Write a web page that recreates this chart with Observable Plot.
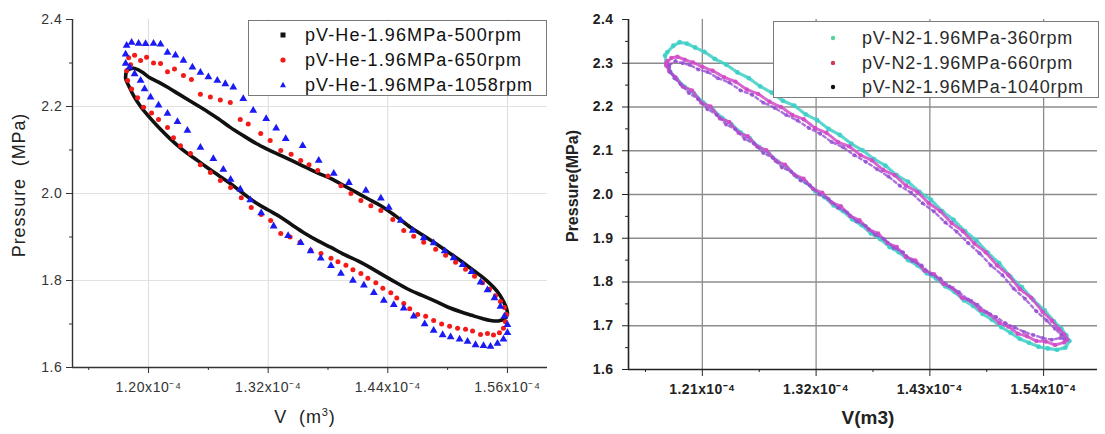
<!DOCTYPE html>
<html>
<head>
<meta charset="utf-8">
<script src="https://cdn.jsdelivr.net/npm/d3@7"></script>
<script src="https://cdn.jsdelivr.net/npm/@observablehq/plot@0.6"></script>
<style>
  body { margin: 0; background: #fff; font-family: "Liberation Sans", Arial, sans-serif; }
  #wrap { position: relative; width: 1105px; height: 434px; overflow: hidden; background: #fff; }
  #left, #right { position: absolute; top: 0; }
  #left { left: 0; width: 552px; }
  #right { left: 550px; width: 555px; }
  #left svg, #right svg { max-width: none; }
  #left svg text { font-size: 14px; letter-spacing: 0.6px; fill: #333; }
  #right svg text { font-size: 14px; font-weight: bold; letter-spacing: 0.4px; fill: #222; }
  .legend { position: absolute; background: #fff; border: 1px solid #7a7a7a; box-sizing: border-box; }
  .legend .t { position: absolute; white-space: nowrap; font-size: 18px; line-height: 22px; }
  .legend svg { position: absolute; overflow: visible; }
  .lab { position: absolute; white-space: nowrap; transform: translate(-50%, -50%); color: #222; }
</style>
</head>
<body>
<div id="wrap">
  <div id="left"></div>
  <div id="right"></div>
</div>
<script>
// ---------------- Left panel: He ----------------
const heNames = ["pV-He-1.96MPa-500rpm", "pV-He-1.96MPa-650rpm", "pV-He-1.96MPa-1058rpm"];
const heColors = ["#111111", "#f41a1a", "#1a1af4"];

// volume in units of 1e-4 m3, pressure in MPa
const he500Vol = [1.178,1.185,1.193,1.200,1.210,1.220,1.230,1.240,1.250,1.260,1.270,1.282,1.295,1.308,1.320,1.333,1.346,1.358,1.370,1.383,1.396,1.408,1.420,1.433,1.448,1.463,1.476,1.488,1.500,1.512,1.522,1.532,1.540,1.547,1.552,1.556,1.559,1.560,
  1.557,1.551,1.543,1.534,1.524,1.513,1.500,1.487,1.475,1.463,1.450,1.437,1.423,1.410,1.396,1.383,1.370,1.357,1.345,1.333,1.320,1.308,1.295,1.282,1.270,1.258,1.246,1.234,1.222,1.211,1.201,1.192,1.185,1.180,1.177,1.178];
const he500Pres = [2.283,2.288,2.280,2.268,2.256,2.243,2.229,2.215,2.201,2.187,2.172,2.152,2.133,2.115,2.101,2.087,2.073,2.060,2.047,2.034,2.018,2.003,1.988,1.972,1.948,1.922,1.903,1.885,1.866,1.847,1.830,1.813,1.798,1.782,1.768,1.752,1.736,1.722,
  1.712,1.707,1.708,1.713,1.720,1.728,1.739,1.753,1.765,1.777,1.793,1.810,1.829,1.845,1.860,1.876,1.891,1.908,1.926,1.945,1.962,1.978,2.000,2.023,2.042,2.061,2.081,2.101,2.125,2.150,2.175,2.200,2.225,2.248,2.265,2.283];

const he650Vol = [1.180,1.186,1.192,1.198,1.205,1.212,1.219,1.226,1.235,1.243,1.252,1.262,1.272,1.282,1.292,1.300,1.3125,1.322,1.3326,1.343,1.3526,1.361,1.3697,1.380,1.393,1.403,1.413,1.423,1.433,1.445,1.456,1.466,1.476,1.488,1.498,1.508,1.518,1.527,1.535,1.542,1.548,1.553,1.557,1.559,
  1.558,1.556,1.552,1.546,1.540,1.533,1.525,1.518,1.510,1.502,1.494,1.486,1.478,1.470,1.462,1.456,1.449,1.443,1.435,1.428,1.420,1.413,1.405,1.398,1.390,1.383,1.373,1.3627,1.352,1.342,1.3326,1.3225,1.313,1.303,1.293,1.2823,1.272,1.262,1.252,1.242,1.232,1.225,1.219,1.210,1.203,1.195,1.189,1.183,1.179,1.178,1.182];
const he650Pres = [2.312,2.318,2.306,2.313,2.300,2.299,2.280,2.286,2.271,2.262,2.228,2.222,2.215,2.209,2.170,2.160,2.138,2.122,2.099,2.090,2.076,2.066,2.053,2.040,2.018,2.000,1.984,1.972,1.961,1.940,1.915,1.902,1.888,1.872,1.858,1.842,1.826,1.810,1.795,1.780,1.765,1.752,1.738,1.722,
  1.705,1.690,1.680,1.675,1.678,1.676,1.684,1.688,1.690,1.695,1.700,1.708,1.718,1.722,1.735,1.747,1.760,1.772,1.782,1.795,1.805,1.816,1.825,1.835,1.843,1.851,1.862,1.869,1.888,1.900,1.908,1.938,1.952,1.968,1.990,2.014,2.030,2.048,2.066,2.092,2.110,2.128,2.152,2.170,2.185,2.198,2.220,2.240,2.260,2.282,2.296];

const he1058Vol = [1.178,1.183,1.190,1.197,1.205,1.212,1.219,1.227,1.235,1.244,1.252,1.260,1.269,1.277,1.285,1.295,1.305,1.318,1.328,1.3376,1.3546,1.3707,1.3858,1.401,1.418,1.433,1.441,1.453,1.465,1.476,1.486,1.497,1.506,1.515,1.524,1.533,1.540,1.547,1.553,1.557,1.560,
  1.560,1.556,1.550,1.543,1.536,1.528,1.520,1.512,1.503,1.495,1.486,1.477,1.466,1.456,1.446,1.436,1.426,1.416,1.405,1.393,1.383,1.3727,1.3626,1.3526,1.340,1.3255,1.313,1.302,1.292,1.2823,1.275,1.265,1.252,1.239,1.229,1.219,1.210,1.202,1.196,1.192,1.186,1.181,1.177,1.177];
const he1058Pres = [2.340,2.347,2.345,2.344,2.345,2.343,2.324,2.318,2.306,2.290,2.278,2.268,2.260,2.252,2.244,2.218,2.191,2.172,2.150,2.126,2.110,2.076,2.046,2.025,2.007,1.989,1.968,1.938,1.915,1.898,1.886,1.868,1.852,1.836,1.820,1.796,1.778,1.760,1.740,1.718,1.698,
  1.680,1.665,1.655,1.648,1.650,1.652,1.660,1.665,1.670,1.675,1.685,1.700,1.718,1.736,1.744,1.754,1.772,1.789,1.800,1.816,1.834,1.851,1.868,1.887,1.903,1.925,1.955,1.985,2.010,2.032,2.055,2.080,2.106,2.145,2.165,2.184,2.203,2.221,2.240,2.260,2.275,2.290,2.299,2.320];

const leftXTicks = [1.20, 1.32, 1.44, 1.56];
const leftXMinor = [1.14, 1.26, 1.38, 1.50];
const leftYTicks = [1.6, 1.8, 2.0, 2.2, 2.4];
const leftYMinor = [1.7, 1.9, 2.1, 2.3];
const leftYGrid = [1.8, 2.0, 2.2];
const leftXDomain = [1.1237, 1.6002];
const leftYDomain = [1.6, 2.4];

// ---------------- Right panel: N2 ----------------
const n2Names = ["pV-N2-1.96MPa-360rpm", "pV-N2-1.96MPa-660rpm", "pV-N2-1.96MPa-1040rpm"];
const n2PlotColors = ["#3ecfc6", "#d24ac8", "#9650d2"];
const n2LegendColors = ["#56d49c", "#cc3a58", "#111111"];

const n2_360Vol = [1.176,1.182,1.188,1.195,1.203,1.212,1.222,1.233,1.244,1.255,1.266,1.277,1.288,1.299,1.310,1.321,1.332,1.343,1.354,1.365,1.376,1.387,1.398,1.409,1.420,1.431,1.442,1.453,1.464,1.475,1.486,1.497,1.508,1.519,1.530,1.541,1.550,1.557,1.562,1.565,
  1.561,1.553,1.544,1.535,1.526,1.517,1.508,1.499,1.490,1.481,1.472,1.463,1.454,1.445,1.436,1.427,1.418,1.409,1.400,1.391,1.382,1.373,1.364,1.355,1.346,1.337,1.328,1.319,1.310,1.301,1.292,1.283,1.274,1.265,1.256,1.247,1.238,1.229,1.220,1.211,1.202,1.193,1.185,1.179,1.175,1.174];
const n2_360Pres = [2.325,2.340,2.348,2.345,2.336,2.326,2.310,2.297,2.279,2.266,2.247,2.233,2.214,2.203,2.183,2.170,2.150,2.136,2.116,2.101,2.081,2.066,2.044,2.029,2.006,1.988,1.962,1.942,1.916,1.895,1.867,1.843,1.812,1.788,1.759,1.735,1.710,1.694,1.678,1.665,
  1.650,1.645,1.648,1.652,1.661,1.670,1.684,1.697,1.714,1.727,1.745,1.758,1.777,1.790,1.808,1.820,1.838,1.850,1.868,1.880,1.898,1.911,1.930,1.943,1.962,1.975,1.994,2.008,2.028,2.041,2.061,2.075,2.095,2.108,2.128,2.142,2.161,2.175,2.195,2.210,2.231,2.246,2.265,2.280,2.300,2.318];

const n2_660Vol = [1.175,1.180,1.186,1.193,1.201,1.210,1.220,1.231,1.242,1.253,1.264,1.275,1.286,1.297,1.308,1.319,1.330,1.341,1.352,1.363,1.374,1.385,1.396,1.407,1.418,1.429,1.440,1.451,1.462,1.473,1.484,1.495,1.506,1.517,1.528,1.539,1.548,1.555,1.560,1.563,
  1.560,1.551,1.542,1.533,1.524,1.515,1.506,1.497,1.488,1.479,1.470,1.461,1.452,1.443,1.434,1.425,1.416,1.407,1.398,1.389,1.380,1.371,1.362,1.353,1.344,1.335,1.326,1.317,1.308,1.299,1.290,1.281,1.272,1.263,1.254,1.245,1.236,1.227,1.218,1.209,1.200,1.191,1.184,1.178,1.175,1.176];
const n2_660Pres = [2.300,2.312,2.315,2.308,2.302,2.292,2.283,2.268,2.258,2.240,2.230,2.212,2.200,2.182,2.172,2.152,2.141,2.120,2.110,2.090,2.078,2.056,2.044,2.020,2.006,1.980,1.962,1.935,1.916,1.888,1.868,1.838,1.816,1.784,1.764,1.732,1.712,1.692,1.680,1.668,
  1.662,1.656,1.664,1.665,1.676,1.682,1.698,1.707,1.726,1.736,1.756,1.764,1.786,1.796,1.818,1.826,1.849,1.857,1.880,1.889,1.911,1.920,1.941,1.951,1.973,1.982,2.004,2.013,2.036,2.045,2.068,2.077,2.101,2.110,2.133,2.141,2.166,2.174,2.201,2.210,2.238,2.247,2.268,2.282,2.295,2.305];

const n2_1040Vol = [1.178,1.184,1.191,1.198,1.206,1.215,1.225,1.236,1.247,1.258,1.269,1.280,1.291,1.302,1.313,1.324,1.335,1.346,1.357,1.368,1.379,1.390,1.401,1.412,1.423,1.434,1.445,1.456,1.467,1.478,1.489,1.500,1.511,1.522,1.533,1.543,1.551,1.557,1.560,
  1.556,1.548,1.539,1.530,1.521,1.512,1.503,1.494,1.485,1.476,1.467,1.458,1.449,1.440,1.431,1.422,1.413,1.404,1.395,1.386,1.377,1.368,1.359,1.350,1.341,1.332,1.323,1.314,1.305,1.296,1.287,1.278,1.269,1.260,1.251,1.242,1.233,1.224,1.215,1.206,1.197,1.189,1.183,1.179,1.178];
const n2_1040Pres = [2.296,2.305,2.300,2.296,2.286,2.280,2.266,2.256,2.238,2.228,2.210,2.198,2.182,2.169,2.152,2.139,2.120,2.108,2.090,2.075,2.058,2.041,2.020,2.004,1.980,1.961,1.936,1.915,1.889,1.866,1.838,1.816,1.785,1.762,1.733,1.712,1.693,1.680,1.670,
  1.672,1.668,1.672,1.679,1.686,1.696,1.706,1.720,1.731,1.748,1.760,1.777,1.790,1.808,1.818,1.838,1.848,1.868,1.878,1.898,1.908,1.928,1.939,1.959,1.970,1.990,2.000,2.021,2.032,2.052,2.062,2.084,2.095,2.116,2.127,2.149,2.160,2.182,2.195,2.218,2.232,2.252,2.266,2.280,2.292];

const rightXTicks = [1.21, 1.32, 1.43, 1.54];
const rightXMinor = [1.155, 1.265, 1.375, 1.485];
const rightYTicks = [1.6, 1.7, 1.8, 1.9, 2.0, 2.1, 2.2, 2.3, 2.4];
const rightYMinor = [1.65, 1.75, 1.85, 1.95, 2.05, 2.15, 2.25, 2.35];
const rightYGrid = [1.7, 1.8, 1.9, 2.0, 2.1, 2.2, 2.3];
const rightXDomain = [1.1386, 1.5921];
const rightYDomain = [1.6, 2.4];

// ---------------- build ----------------
const rows = (vol, pres) => vol.map((v, i) => ({v, p: pres[i]}));
const sciFmt = d => d.toFixed(2) + "x10\u207B\u2074";

const leftPlot = Plot.plot({
  width: 552, height: 434,
  marginLeft: 72, marginRight: 5, marginTop: 19, marginBottom: 67,
  x: {domain: leftXDomain},
  y: {domain: leftYDomain},
  style: {background: "transparent", fontFamily: "Liberation Sans, Arial, sans-serif", color: "#333"},
  marks: [
    Plot.gridX(leftXTicks, {stroke: "#dcdcdc", strokeOpacity: 1}),
    Plot.gridY(leftYGrid, {stroke: "#e2e2e2", strokeOpacity: 1}),
    Plot.line(rows(he500Vol, he500Pres), {x: "v", y: "p", stroke: heColors[0], strokeWidth: 3.6, curve: "catmull-rom"}),
    Plot.dot(rows(he650Vol, he650Pres), {x: "v", y: "p", r: 2.5, fill: heColors[1], stroke: "none"}),
    Plot.dot(rows(he1058Vol, he1058Pres), {x: "v", y: "p", r: 2.9, symbol: "triangle", fill: heColors[2], stroke: "none"}),
    Plot.ruleY([leftYDomain[0]], {stroke: "#333", strokeWidth: 1.4}),
    Plot.ruleX([leftXDomain[0]], {stroke: "#333", strokeWidth: 1.4}),
    Plot.axisX(leftXTicks, {tickSize: 6, tickPadding: 9, tickFormat: sciFmt, label: null, stroke: "#333"}),
    Plot.axisX(leftXMinor, {tickSize: 3, tickFormat: () => "", label: null, stroke: "#333"}),
    Plot.axisY(leftYTicks, {tickSize: 6, tickPadding: 4, tickFormat: d => d.toFixed(1), label: null, stroke: "#333"}),
    Plot.axisY(leftYMinor, {tickSize: 3, tickFormat: () => "", label: null, stroke: "#333"})
  ]
});
document.getElementById("left").appendChild(leftPlot);

const rightPlot = Plot.plot({
  width: 555, height: 434,
  marginLeft: 78, marginRight: 8, marginTop: 19, marginBottom: 65,
  x: {domain: rightXDomain},
  y: {domain: rightYDomain},
  style: {background: "transparent", fontFamily: "Liberation Sans, Arial, sans-serif", color: "#222"},
  marks: [
    Plot.gridX(rightXTicks, {stroke: "#8c8c8c", strokeOpacity: 1, strokeWidth: 1.3}),
    Plot.gridY(rightYGrid, {stroke: "#8c8c8c", strokeOpacity: 1, strokeWidth: 1.3}),
    Plot.line(rows(n2_360Vol, n2_360Pres), {x: "v", y: "p", stroke: n2PlotColors[0], strokeWidth: 3.2, strokeDasharray: "4,2", strokeOpacity: 0.85}),
    Plot.dot(rows(n2_360Vol, n2_360Pres), {x: "v", y: "p", r: 2.4, fill: n2PlotColors[0], fillOpacity: 0.9, stroke: "none"}),
    Plot.line(rows(n2_660Vol, n2_660Pres), {x: "v", y: "p", stroke: n2PlotColors[1], strokeWidth: 3, strokeDasharray: "5,2", strokeOpacity: 0.85}),
    Plot.dot(rows(n2_660Vol, n2_660Pres), {x: "v", y: "p", r: 2.2, fill: n2PlotColors[1], fillOpacity: 0.9, stroke: "none"}),
    Plot.line(rows(n2_1040Vol, n2_1040Pres), {x: "v", y: "p", stroke: n2PlotColors[2], strokeWidth: 2.4, strokeDasharray: "3,3", strokeOpacity: 0.8}),
    Plot.dot(rows(n2_1040Vol, n2_1040Pres), {x: "v", y: "p", r: 2.0, fill: n2PlotColors[2], fillOpacity: 0.85, stroke: "none"}),
    Plot.ruleY([rightYDomain[0]], {stroke: "#222", strokeWidth: 1.6}),
    Plot.ruleX([rightXDomain[0]], {stroke: "#222", strokeWidth: 1.6}),
    Plot.axisX(rightXTicks, {tickSize: 7, tickPadding: 8, tickFormat: sciFmt, label: null, stroke: "#222"}),
    Plot.axisX(rightXMinor, {tickSize: 3, tickFormat: () => "", label: null, stroke: "#222"}),
    Plot.axisY(rightYTicks, {tickSize: 6, tickPadding: 9, tickFormat: d => d.toFixed(1), label: null, stroke: "#222"}),
    Plot.axisY(rightYMinor, {tickSize: 3, tickFormat: () => "", label: null, stroke: "#222"})
  ]
});
document.getElementById("right").appendChild(rightPlot);

// ---------------- legends & titles (HTML overlays) ----------------
const wrap = document.getElementById("wrap");
function addLegend(box, names, colors, shapes, textStyle) {
  const div = document.createElement("div");
  div.className = "legend";
  Object.assign(div.style, {left: box.x + "px", top: box.y + "px", width: box.w + "px", height: box.h + "px"});
  names.forEach((name, i) => {
    const cy = box.rows[i] - box.y - 1;
    const sv = document.createElementNS("http://www.w3.org/2000/svg", "svg");
    sv.setAttribute("width", 10); sv.setAttribute("height", 10);
    sv.style.left = (box.mx - box.x - 6) + "px";
    sv.style.top = (cy - 5) + "px";
    let shape;
    if (shapes[i] === "square") {
      shape = document.createElementNS(sv.namespaceURI, "rect");
      shape.setAttribute("x", 2.5); shape.setAttribute("y", 2.5); shape.setAttribute("width", 5); shape.setAttribute("height", 5);
    } else if (shapes[i] === "triangle") {
      shape = document.createElementNS(sv.namespaceURI, "path");
      shape.setAttribute("d", "M5,1.8L8,7.2L2,7.2Z");
    } else {
      shape = document.createElementNS(sv.namespaceURI, "circle");
      shape.setAttribute("cx", 5); shape.setAttribute("cy", 5); shape.setAttribute("r", box.r || 2.6);
    }
    shape.setAttribute("fill", colors[i]);
    sv.appendChild(shape);
    div.appendChild(sv);
    const t = document.createElement("div");
    t.className = "t";
    t.textContent = name;
    Object.assign(t.style, {left: (box.tx - box.x - 1) + "px", top: (cy - 11) + "px"}, textStyle);
    div.appendChild(t);
  });
  wrap.appendChild(div);
}
addLegend({x: 248, y: 20, w: 299, h: 76, mx: 283, tx: 305, rows: [35, 60, 85]},
  heNames, heColors, ["square", "circle", "triangle"], {letterSpacing: "1.1px", color: "#111"});
addLegend({x: 773, y: 21, w: 326, h: 77, mx: 833, tx: 862, rows: [38, 63, 87], r: 2.2},
  n2Names, n2LegendColors, ["circle", "circle", "circle"], {letterSpacing: "0.8px", color: "#2a2a2a"});

function addLabel(text, x, y, style, rotate) {
  const d = document.createElement("div");
  d.className = "lab";
  d.innerHTML = text;
  Object.assign(d.style, {left: x + "px", top: y + "px"}, style);
  if (rotate) d.style.transform = "translate(-50%, -50%) rotate(-90deg)";
  wrap.appendChild(d);
}
addLabel("Pressure&nbsp;&nbsp;(MPa)", 19, 185, {fontSize: "18px", letterSpacing: "0.9px", color: "#222"}, true);
addLabel("V&nbsp;&nbsp;(m<sup style=\"font-size:11px\">3</sup>)", 305, 417, {fontSize: "18px", letterSpacing: "0.9px", color: "#222"});
addLabel("Pressure(MPa)", 573, 186, {fontSize: "16px", fontWeight: "bold", color: "#222"}, true);
addLabel("V(m3)", 868, 418, {fontSize: "19px", fontWeight: "bold", color: "#222"});
</script>
</body>
</html>
